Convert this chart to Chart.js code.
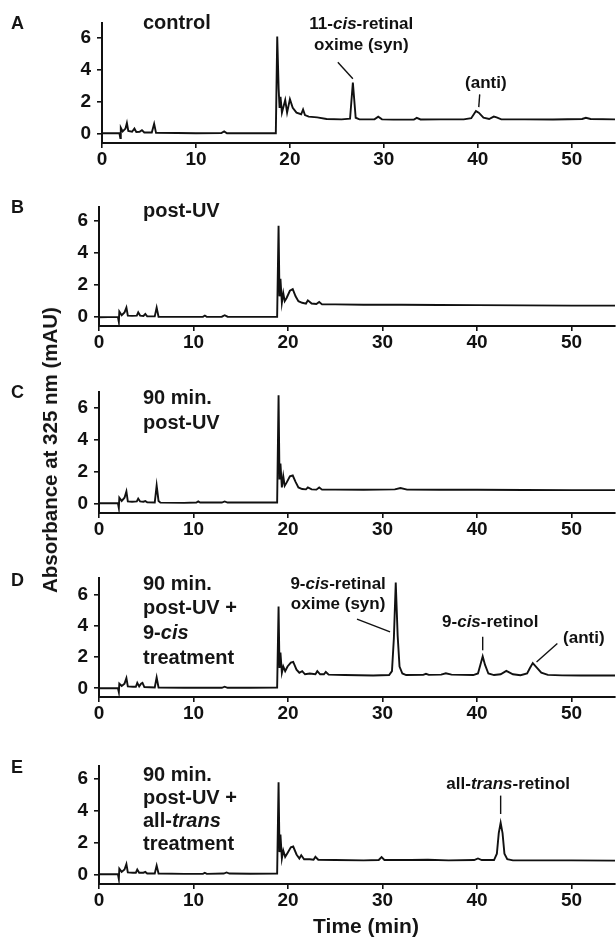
<!DOCTYPE html>
<html><head><meta charset="utf-8">
<script src="https://cdn.jsdelivr.net/npm/chart.js@4"></script>
<style>
body{margin:0;background:#fff;width:616px;height:942px;position:relative;overflow:hidden;font-family:"Liberation Sans",Arial,sans-serif;font-weight:bold;color:#151515}
canvas{position:absolute;left:0}
.t{position:absolute;white-space:nowrap;z-index:2}
.letter{font-size:18px;line-height:20px}
.cond{font-size:20px}
</style></head><body>
<script>
// ---------- data ----------
const xTicks = [0, 10, 20, 30, 40, 50];
const yTicks = [0, 2, 4, 6];

// [time (min), absorbance (mAU)]
const traceA = [[0,0],[1.85,0.02],[1.95,-0.3],[2.0,0.35],[2.2,0.12],[2.5,0.3],[2.65,0.65],[2.8,0.15],[3.2,0.1],[3.45,0.3],[3.65,0.08],[4.0,0.1],[4.25,0.2],[4.5,0.05],[5.3,0.05],[5.55,0.6],[5.75,0.03],[8,0.02],[10,0],[12.7,0.02],[13.0,0.12],[13.3,0],[16,0],[18.5,0],[18.65,6.1],[18.8,2.8],[18.9,1.6],[19.0,2.3],[19.15,1.3],[19.5,2.1],[19.7,1.3],[20.0,2.15],[20.3,1.6],[20.7,1.3],[21.2,1.2],[21.4,1.5],[21.6,1.15],[22.0,1.05],[22.9,1.0],[23.9,0.9],[25.5,0.88],[26.4,0.92],[26.7,3.2],[27.0,0.98],[27.4,0.88],[29.0,0.88],[29.4,1.05],[29.8,0.88],[31,0.86],[33.2,0.87],[33.5,0.97],[33.9,0.87],[36,0.88],[38.5,0.88],[39.3,0.95],[39.8,1.4],[40.1,1.3],[40.6,0.98],[41.2,0.9],[41.7,1.05],[42.0,1.0],[42.5,0.88],[45,0.88],[48,0.87],[51.1,0.9],[51.5,0.98],[52,0.9],[54.6,0.88]];

const traceB = [[0,0],[2.0,0.02],[2.1,-0.3],[2.15,0.35],[2.4,0.12],[2.7,0.3],[2.9,0.6],[3.05,0.1],[3.5,0.08],[4.0,0.1],[4.15,0.3],[4.35,0.1],[4.7,0.08],[4.9,0.2],[5.1,0.05],[5.9,0.05],[6.1,0.6],[6.3,0.03],[9,0.02],[11,0.02],[11.2,0.1],[11.4,0.02],[13.0,0.03],[13.3,0.12],[13.6,0.03],[16,0.02],[18.85,0.02],[19.0,5.7],[19.1,1.3],[19.2,2.4],[19.35,0.9],[19.5,1.5],[19.65,1.0],[19.85,1.2],[20.2,1.65],[20.5,1.75],[20.8,1.3],[21.1,1.0],[21.5,0.9],[21.9,0.85],[22.1,1.05],[22.5,0.85],[23.0,0.82],[23.3,0.95],[23.6,0.8],[25,0.8],[28,0.78],[32,0.78],[36,0.76],[40,0.75],[45,0.74],[50,0.72],[54.6,0.72]];

const traceC = [[0,0],[2.0,0.02],[2.1,-0.3],[2.15,0.35],[2.4,0.15],[2.7,0.35],[2.9,0.75],[3.05,0.12],[3.5,0.1],[4.0,0.12],[4.15,0.3],[4.35,0.12],[4.7,0.1],[4.9,0.14],[5.1,0.06],[5.9,0.05],[6.1,1.12],[6.3,0.15],[6.5,0.04],[9,0.03],[10.3,0.05],[10.5,0.12],[10.7,0.05],[13.0,0.05],[13.3,0.12],[13.6,0.05],[16,0.05],[18.85,0.05],[19.0,6.8],[19.1,1.5],[19.2,2.5],[19.35,1.0],[19.5,1.7],[19.65,1.1],[19.85,1.3],[20.2,1.7],[20.5,1.75],[20.8,1.35],[21.1,1.0],[21.5,0.9],[21.9,0.88],[22.1,1.0],[22.5,0.88],[23.0,0.86],[23.3,1.0],[23.6,0.86],[25,0.86],[28,0.85],[31.3,0.88],[31.9,0.96],[32.6,0.86],[36,0.85],[40,0.85],[45,0.84],[50,0.83],[54.6,0.83]];

const traceD = [[0,0],[2.0,0.02],[2.1,-0.25],[2.15,0.3],[2.4,0.15],[2.7,0.3],[2.9,0.65],[3.05,0.12],[3.6,0.1],[3.9,0.1],[4.05,0.35],[4.25,0.12],[4.45,0.3],[4.6,0.35],[4.8,0.08],[5.9,0.05],[6.1,0.7],[6.3,0.05],[9,0.03],[13,0.03],[13.3,0.1],[13.6,0.03],[16,0.03],[18.85,0.05],[19.0,5.25],[19.1,1.3],[19.2,2.3],[19.35,1.0],[19.5,1.4],[19.7,1.1],[19.95,1.4],[20.3,1.65],[20.55,1.7],[20.9,1.2],[21.2,1.0],[21.5,1.1],[21.8,0.9],[22.3,0.95],[22.9,0.9],[23.1,1.1],[23.4,0.9],[23.8,0.9],[24.0,1.05],[24.3,0.88],[26,0.85],[29,0.82],[30.7,0.85],[31.0,1.1],[31.2,3.2],[31.4,6.8],[31.6,3.4],[31.8,1.4],[32.1,0.95],[32.5,0.85],[34.3,0.86],[34.6,0.93],[34.9,0.86],[36.2,0.88],[36.7,0.96],[37.3,0.88],[39.6,0.85],[40.1,0.95],[40.35,1.5],[40.6,2.05],[40.85,1.5],[41.2,0.95],[41.8,0.85],[42.5,0.9],[43.1,1.12],[43.8,0.9],[44.6,0.84],[45.3,0.95],[45.6,1.3],[45.9,1.62],[46.3,1.35],[46.8,1.0],[47.5,0.86],[49,0.83],[51,0.82],[54.6,0.82]];

const traceE = [[0,0],[2.0,0.02],[2.1,-0.3],[2.15,0.35],[2.4,0.15],[2.7,0.3],[2.9,0.65],[3.05,0.12],[3.6,0.1],[3.9,0.1],[4.05,0.3],[4.25,0.1],[4.7,0.1],[4.9,0.15],[5.1,0.05],[5.9,0.05],[6.1,0.55],[6.3,0.05],[9,0.03],[11,0.03],[11.2,0.1],[11.4,0.03],[13.2,0.05],[13.5,0.12],[13.8,0.05],[16,0.04],[18.85,0.05],[19.0,5.8],[19.1,1.4],[19.2,2.5],[19.35,1.0],[19.5,1.5],[19.7,1.1],[19.95,1.35],[20.3,1.7],[20.55,1.75],[20.9,1.25],[21.2,1.0],[21.4,1.2],[21.7,0.95],[22.3,0.95],[22.7,0.92],[22.9,1.1],[23.2,0.92],[25,0.9],[28,0.88],[29.6,0.9],[29.9,1.08],[30.2,0.9],[33,0.9],[34.8,0.92],[37,0.88],[39.7,0.9],[40.1,1.0],[40.5,0.9],[41.8,0.9],[42.1,1.3],[42.3,2.6],[42.5,3.25],[42.7,2.6],[42.9,1.3],[43.2,0.95],[43.8,0.88],[46,0.88],[50,0.88],[54.6,0.86]];

const panelLetters = ['A', 'B', 'C', 'D', 'E'];
const conditionLines = [
  ['control'],
  ['post-UV'],
  ['90 min.', 'post-UV'],
  ['90 min.', 'post-UV +', '9-<i>cis</i>', 'treatment'],
  ['90 min.', 'post-UV +', 'all-<i>trans</i>', 'treatment']
];
// peak labels: text segments [text, italic], anchored at (time, absorbance)
const peakNotes = [
  [
    {lines: [{x: 27.6, y: 6.86, segs: [['11-', 0], ['cis', 1], ['-retinal', 0]]}, {x: 27.6, y: 5.51, segs: [['oxime (syn)', 0]]}], lead: [25.1, 4.47, 26.7, 3.43]},
    {lines: [{x: 40.85, y: 3.12, segs: [['(anti)', 0]]}], lead: [40.2, 2.45, 40.1, 1.65]}
  ],
  [], [],
  [
    {lines: [{x: 25.3, y: 6.69, segs: [['9-', 0], ['cis', 1], ['-retinal', 0]]}, {x: 25.3, y: 5.38, segs: [['oxime (syn)', 0]]}], lead: [27.3, 4.44, 30.8, 3.63]},
    {lines: [{x: 41.4, y: 4.25, segs: [['9-', 0], ['cis', 1], ['-retinol', 0]]}], lead: [40.6, 3.31, 40.6, 2.44]},
    {lines: [{x: 51.3, y: 3.19, segs: [['(anti)', 0]]}], lead: [48.5, 2.88, 46.3, 1.69]}
  ],
  [
    {lines: [{x: 43.3, y: 5.7, segs: [['all-', 0], ['trans', 1], ['-retinol', 0]]}], lead: [42.5, 4.96, 42.5, 3.8]}
  ]
];
const traces = [traceA, traceB, traceC, traceD, traceE];

// ---------- layout ----------
const FONT = '"Liberation Sans", Arial, sans-serif';
const INK = '#111111';
const layouts = [
  {left: 102, top: 20, bottom: 143, yMin: -0.61, yMax: 6.92, letterY: 23, condY: 22, condLH: 24},
  {left: 99, top: 204, bottom: 326, yMin: -0.55, yMax: 6.85, letterY: 207, condY: 210, condLH: 24},
  {left: 99, top: 389, bottom: 513, yMin: -0.61, yMax: 6.98, letterY: 392, condY: 397, condLH: 25},
  {left: 99, top: 575, bottom: 697, yMin: -0.56, yMax: 7.06, letterY: 580, condY: 583, condLH: 24.7},
  {left: 99, top: 763, bottom: 884, yMin: -0.61, yMax: 6.8, letterY: 767, condY: 774, condLH: 23}
];
const PAD_TOP = 14, X_AXIS_H = 40, X_MAX = 54.6;

const notePlugin = {
  id: 'notes',
  afterDatasetsDraw(chart, args, opts) {
    const ctx = chart.ctx, xs = chart.scales.x, ys = chart.scales.y;
    ctx.save();
    ctx.fillStyle = INK; ctx.strokeStyle = INK; ctx.lineWidth = 1.4;
    ctx.textBaseline = 'middle'; ctx.textAlign = 'left';
    const fnt = it => (it ? 'italic ' : '') + 'bold 17px ' + FONT;
    (opts.items || []).forEach(item => {
      item.lines.forEach(l => {
        let w = 0;
        l.segs.forEach(s => { ctx.font = fnt(s[1]); w += ctx.measureText(s[0]).width; });
        let px = xs.getPixelForValue(l.x) - w / 2;
        const py = ys.getPixelForValue(l.y);
        l.segs.forEach(s => { ctx.font = fnt(s[1]); ctx.fillText(s[0], px, py); px += ctx.measureText(s[0]).width; });
      });
      if (item.lead) {
        const L = item.lead;
        ctx.beginPath();
        ctx.moveTo(xs.getPixelForValue(L[0]), ys.getPixelForValue(L[1]));
        ctx.lineTo(xs.getPixelForValue(L[2]), ys.getPixelForValue(L[3]));
        ctx.stroke();
      }
    });
    ctx.restore();
  }
};

function addText(html, cls, css) {
  const d = document.createElement('div');
  d.className = 't ' + cls;
  d.innerHTML = html;
  Object.assign(d.style, css);
  document.body.appendChild(d);
}

traces.forEach((trace, i) => {
  const L = layouts[i];
  const cv = document.createElement('canvas');
  const h = PAD_TOP + (L.bottom - L.top) + X_AXIS_H;
  cv.width = 616; cv.height = h;
  cv.style.top = (L.top - PAD_TOP) + 'px';
  cv.style.width = '616px'; cv.style.height = h + 'px';
  document.body.appendChild(cv);
  const axisCommon = {
    border: {display: true, color: INK, width: 2},
    grid: {display: true, drawOnChartArea: false, drawTicks: true, tickLength: 5, color: INK, lineWidth: 1.6},
  };
  new Chart(cv, {
    type: 'line',
    data: {datasets: [{data: trace.map(p => ({x: p[0], y: p[1]})), borderColor: '#111111', borderWidth: 1.9, pointRadius: 0, tension: 0, fill: false}]},
    options: {
      responsive: false, animation: false, devicePixelRatio: 1,
      layout: {padding: {top: PAD_TOP, right: 1, left: 0, bottom: 0}},
      plugins: {legend: {display: false}, tooltip: {enabled: false}, notes: {items: peakNotes[i]}},
      scales: {
        x: Object.assign({
          type: 'linear', min: 0, max: X_MAX,
          afterBuildTicks: s => { s.ticks = xTicks.map(v => ({value: v})); },
          afterFit: s => { s.height = X_AXIS_H; },
          ticks: {padding: 0, color: INK, autoSkip: false, maxRotation: 0, font: {size: 19, weight: 'bold', family: FONT}}
        }, axisCommon),
        y: Object.assign({
          type: 'linear', min: L.yMin, max: L.yMax,
          afterBuildTicks: s => { s.ticks = yTicks.map(v => ({value: v})); },
          afterFit: s => { s.width = L.left; },
          ticks: {padding: 6, color: INK, font: {size: 19, weight: 'bold', family: FONT}}
        }, axisCommon)
      }
    },
    plugins: [notePlugin]
  });
  addText(panelLetters[i], 'letter', {left: '11px', top: (L.letterY - 10) + 'px'});
  addText(conditionLines[i].join('<br>'), 'cond', {left: '143px', top: (L.condY - L.condLH / 2) + 'px', lineHeight: L.condLH + 'px'});
});

addText('Absorbance at 325 nm (mAU)', 'ytitle', {left: '50px', top: '450px', fontSize: '20.5px', transform: 'translate(-50%,-50%) rotate(-90deg)'});
addText('Time (min)', 'xtitle', {left: '366px', top: '926px', fontSize: '21px', transform: 'translate(-50%,-50%)'});
</script>
</body></html>
